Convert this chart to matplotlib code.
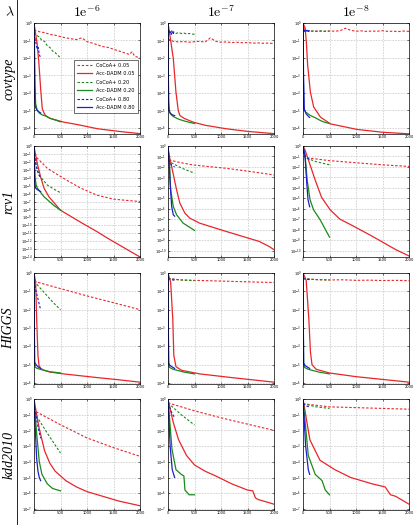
import numpy as np
import matplotlib
matplotlib.use("Agg")
import matplotlib.pyplot as plt
from matplotlib.ticker import LogFormatterSciNotation, NullLocator, FixedLocator

plt.rcParams['mathtext.fontset'] = 'cm'
plt.rcParams['font.family'] = ['DejaVu Sans']

# ---------------- data: (iterations, log10 suboptimality) ----------------
SERIES = ["CoCoA+ 0.05", "Acc-DADM 0.05", "CoCoA+ 0.20", "Acc-DADM 0.20", "CoCoA+ 0.80", "Acc-DADM 0.80"]
DATASETS = ["covtype", "rcv1", "HIGGS", "kdd2010"]
LAMBDAS = [r"$1\mathrm{e}^{-6}$", r"$1\mathrm{e}^{-7}$", r"$1\mathrm{e}^{-8}$"]
X_TICKS = [0, 500, 1000, 1500, 2000]
Y_BOTTOM = [-6.35, -14.0, -6.05, -7.07]          # log10 of lower y-limit per row
Y_BOTTOM_COLS = {("rcv1", 1): -10.6, ("rcv1", 2): -10.6}

covtype_6 = {
    "CoCoA+ 0.05": ([0, 100, 200, 300, 400, 500, 600, 700, 800, 900, 950, 1000, 1100, 1200, 1300, 1400, 1500, 1600, 1700, 1800, 1850, 1900, 2000],
                    [-0.40, -0.50, -0.55, -0.65, -0.70, -0.78, -0.85, -0.90, -0.95, -0.85, -0.95, -1.07, -1.15, -1.25, -1.35, -1.40, -1.50, -1.60, -1.70, -1.80, -1.65, -1.90, -2.00]),
    "Acc-DADM 0.05": ([0, 30, 60, 90, 125, 156, 190, 220, 300, 560, 800, 1200, 1600, 2000],
                      [0, -0.6, -1.2, -2.2, -3.75, -4.9, -5.15, -5.3, -5.45, -5.67, -5.8, -6.05, -6.2, -6.33]),
    "CoCoA+ 0.20": ([0, 50, 100, 150, 200, 250, 300, 350, 400, 450, 500],
                    [-0.55, -0.7, -0.8, -1.0, -1.05, -1.3, -1.4, -1.6, -1.7, -1.85, -2.0]),
    "Acc-DADM 0.20": ([0, 10, 20, 30, 60, 100, 150, 220, 300, 400, 500],
                      [0, -1.5, -3.5, -4.6, -5.0, -5.15, -5.25, -5.32, -5.45, -5.55, -5.65]),
    "CoCoA+ 0.80": ([0, 20, 40, 60, 80, 100, 125],
                    [-0.6, -0.9, -1.2, -1.5, -1.4, -1.8, -2.0]),
    "Acc-DADM 0.80": ([0, 5, 10, 15, 25, 50, 80, 125],
                      [0, -1.5, -3.5, -4.5, -4.8, -4.95, -5.05, -5.15]),
}
covtype_7 = {
    "CoCoA+ 0.05": (list(range(0, 2001, 100)),
                    [-0.9, -1.05, -1.08, -1.06, -1.1, -1.07, -1.05, -1.09, -0.85, -1.05, -1.1, -1.08, -1.12, -1.1, -1.13, -1.12, -1.15, -1.14, -1.16, -1.15, -1.18]),
    "Acc-DADM 0.05": ([0, 50, 100, 150, 193, 224, 300, 473, 700, 1097, 1500, 2000],
                      [0, -1.0, -2.03, -3.95, -5.0, -5.29, -5.45, -5.67, -5.85, -6.05, -6.2, -6.33]),
    "CoCoA+ 0.20": (list(range(0, 501, 50)),
                    [-0.5, -0.55, -0.5, -0.6, -0.55, -0.6, -0.58, -0.62, -0.6, -0.63, -0.65]),
    "Acc-DADM 0.20": ([0, 5, 10, 15, 30, 60, 100, 200, 300, 400, 500],
                      [0, -2, -4, -4.8, -5.1, -5.25, -5.35, -5.5, -5.6, -5.68, -5.75]),
    "CoCoA+ 0.80": ([0, 10, 20, 30, 40, 50, 60, 70, 80, 90, 100, 110, 120, 125],
                    [-0.5, -0.45, -0.6, -0.4, -0.55, -0.5, -0.65, -0.45, -0.55, -0.5, -0.6, -0.5, -0.55, -0.55]),
    "Acc-DADM 0.80": ([0, 5, 10, 20, 40, 80, 125],
                      [0, -2.5, -4.5, -5.0, -5.15, -5.25, -5.3]),
}
covtype_8 = {
    "CoCoA+ 0.05": (list(range(0, 2001, 100)),
                    [-0.3, -0.45, -0.47, -0.46, -0.48, -0.45, -0.47, -0.44, -0.3, -0.42, -0.47, -0.45, -0.48, -0.46, -0.47, -0.44, -0.48, -0.47, -0.49, -0.46, -0.48]),
    "Acc-DADM 0.05": ([0, 40, 63, 88, 139, 202, 328, 517, 1022, 1500, 2000],
                      [0, -0.3, -1.07, -2.41, -3.95, -4.81, -5.38, -5.77, -6.09, -6.25, -6.34]),
    "CoCoA+ 0.20": (list(range(0, 501, 50)),
                    [-0.4, -0.46, -0.44, -0.47, -0.45, -0.48, -0.46, -0.45, -0.47, -0.46, -0.48]),
    "Acc-DADM 0.20": ([0, 5, 13, 50, 139, 250, 328, 400, 500],
                      [0, -2.5, -4.9, -5.1, -5.29, -5.45, -5.58, -5.67, -5.75]),
    "CoCoA+ 0.80": ([0, 10, 20, 30, 40, 50, 60, 70, 80, 90, 100, 110, 120, 125],
                    [-0.4, -0.5, -0.42, -0.48, -0.4, -0.5, -0.45, -0.42, -0.5, -0.44, -0.48, -0.43, -0.47, -0.46]),
    "Acc-DADM 0.80": ([0, 10, 25, 60, 107, 125],
                      [0, -3, -4.94, -5.2, -5.36, -5.4]),
}
rcv1_6 = {
    "CoCoA+ 0.05": ([0, 12, 250, 563, 875, 1188, 1500, 1813, 2000],
                    [-0.5, -1.2, -2.8, -4.1, -5.3, -6.2, -6.7, -6.9, -7.0]),
    "Acc-DADM 0.05": ([0, 12, 62, 125, 188, 281, 500, 875, 1188, 1406, 2000],
                      [0, -0.5, -2.2, -3.9, -5.3, -6.4, -8.1, -9.6, -10.8, -11.7, -14.0]),
    "CoCoA+ 0.20": ([0, 30, 94, 250, 406, 500],
                    [-0.5, -2.2, -3.66, -4.92, -5.55, -5.89]),
    "Acc-DADM 0.20": ([0, 10, 20, 40, 62, 188, 375, 500],
                      [0, -2, -4, -4.9, -5.3, -6.4, -7.5, -8.1]),
    "CoCoA+ 0.80": ([0, 30, 60, 90, 125],
                    [-0.5, -2.0, -3.0, -3.6, -4.0]),
    "Acc-DADM 0.80": ([0, 8, 15, 30, 62, 125],
                      [0, -2.5, -4.7, -5.3, -5.5, -5.75]),
}
rcv1_7 = {
    "CoCoA+ 0.05": ([0, 25, 200, 474, 800, 1097, 1500, 2000],
                    [-0.5, -1.33, -1.55, -1.81, -1.98, -2.13, -2.4, -2.76]),
    "Acc-DADM 0.05": ([0, 12, 69, 162, 224, 318, 411, 598, 1097, 1720, 1906, 2000],
                      [0, -0.7, -1.97, -4.19, -5.46, -6.41, -6.89, -7.37, -8.16, -9.11, -9.59, -9.9]),
    "CoCoA+ 0.20": ([0, 25, 250, 500],
                    [-0.5, -1.49, -2.1, -2.6]),
    "Acc-DADM 0.20": ([0, 25, 50, 100, 162, 287, 500],
                      [0, -1.33, -4.19, -5.78, -6.57, -7.37, -8.06]),
    "CoCoA+ 0.80": ([0, 25, 60, 125],
                    [-0.5, -1.5, -1.8, -2.0]),
    "Acc-DADM 0.80": ([0, 12, 40, 69, 100, 125],
                      [0, -0.7, -3.5, -5.78, -6.57, -6.7]),
}
rcv1_8 = {
    "CoCoA+ 0.05": ([0, 40, 500, 1000, 1500, 2000],
                    [-0.5, -1.1, -1.4, -1.6, -1.8, -1.95]),
    "Acc-DADM 0.05": ([0, 38, 100, 229, 350, 514, 700, 895, 1300, 1752, 2000],
                      [0, -0.38, -1.3, -3.24, -4.9, -6.1, -7.0, -7.5, -8.6, -9.9, -10.5]),
    "CoCoA+ 0.20": ([0, 40, 250, 500],
                    [-0.5, -1.1, -1.5, -1.8]),
    "Acc-DADM 0.20": ([0, 38, 80, 133, 200, 324, 500],
                      [0, -0.9, -3.3, -5.14, -6.1, -7.05, -8.7]),
    "CoCoA+ 0.80": ([0, 40, 125],
                    [-0.5, -1.0, -1.3]),
    "Acc-DADM 0.80": ([0, 38, 70, 95, 125],
                      [0, -0.9, -3.5, -5.14, -5.8]),
}
higgs_6 = {
    "CoCoA+ 0.05": ([0, 500, 1000, 1500, 2000],
                    [-0.45, -0.85, -1.25, -1.62, -2.0]),
    "Acc-DADM 0.05": ([0, 31, 50, 75, 95, 125, 190, 300, 560, 1190, 1600, 2000],
                      [0, -0.48, -2.5, -4.5, -5.05, -5.2, -5.3, -5.4, -5.5, -5.7, -5.82, -5.95]),
    "CoCoA+ 0.20": ([0, 125, 250, 375, 500],
                    [-0.45, -0.85, -1.25, -1.65, -2.0]),
    "Acc-DADM 0.20": ([0, 5, 10, 25, 60, 156, 300, 500],
                      [0, -2.5, -5.0, -5.14, -5.2, -5.28, -5.38, -5.45]),
    "CoCoA+ 0.80": ([0, 30, 60, 90, 125],
                    [-0.45, -0.85, -1.25, -1.6, -2.0]),
    "Acc-DADM 0.80": ([0, 5, 12, 40, 80, 125],
                      [0, -2.5, -4.87, -5.0, -5.12, -5.2]),
}
higgs_7 = {
    "CoCoA+ 0.05": ([0, 250, 500, 750, 1000, 1250, 1500, 1750, 2000],
                    [-0.3, -0.38, -0.4, -0.42, -0.44, -0.46, -0.48, -0.5, -0.52]),
    "Acc-DADM 0.05": ([0, 50, 90, 110, 150, 250, 600, 1200, 2000],
                      [0, -0.5, -2.5, -4.5, -5.1, -5.3, -5.5, -5.7, -5.95]),
    "CoCoA+ 0.20": ([0, 125, 250, 375, 500],
                    [-0.3, -0.35, -0.38, -0.4, -0.42]),
    "Acc-DADM 0.20": ([0, 5, 12, 30, 100, 300, 500],
                      [0, -2.5, -5.0, -5.15, -5.25, -5.4, -5.5]),
    "CoCoA+ 0.80": ([0, 30, 60, 90, 125],
                    [-0.3, -0.33, -0.36, -0.38, -0.4]),
    "Acc-DADM 0.80": ([0, 5, 12, 40, 125],
                      [0, -2.5, -4.9, -5.05, -5.2]),
}
higgs_8 = {
    "CoCoA+ 0.05": ([0, 250, 500, 750, 1000, 1250, 1500, 1750, 2000],
                    [-0.3, -0.36, -0.38, -0.37, -0.4, -0.39, -0.41, -0.4, -0.42]),
    "Acc-DADM 0.05": ([0, 60, 110, 140, 170, 250, 500, 1000, 2000],
                      [0, -0.4, -2.5, -4.3, -5.0, -5.25, -5.45, -5.65, -5.95]),
    "CoCoA+ 0.20": ([0, 125, 250, 375, 500],
                    [-0.3, -0.34, -0.36, -0.37, -0.38]),
    "Acc-DADM 0.20": ([0, 5, 12, 30, 100, 300, 500],
                      [0, -2.5, -5.0, -5.15, -5.25, -5.4, -5.5]),
    "CoCoA+ 0.80": ([0, 30, 60, 90, 125],
                    [-0.3, -0.32, -0.34, -0.35, -0.36]),
    "Acc-DADM 0.80": ([0, 5, 12, 40, 125],
                      [0, -2.5, -4.9, -5.05, -5.2]),
}
kdd_6 = {
    "CoCoA+ 0.05": ([0, 30, 500, 1000, 1500, 2000],
                    [-0.3, -0.79, -1.64, -2.48, -3.1, -3.65]),
    "Acc-DADM 0.05": ([0, 50, 100, 150, 200, 300, 400, 600, 800, 1000, 1300, 1600, 2000],
                      [0, -1.0, -1.9, -2.6, -3.3, -4.1, -4.6, -5.2, -5.6, -5.9, -6.2, -6.5, -6.8]),
    "CoCoA+ 0.20": ([0, 31, 250, 500],
                    [-0.3, -1.0, -2.17, -3.44]),
    "Acc-DADM 0.20": ([0, 50, 100, 150, 250, 350, 500],
                      [0, -2.2, -4.0, -4.8, -5.4, -5.7, -5.85]),
    "CoCoA+ 0.80": ([0, 30, 60, 90, 125],
                    [-0.3, -0.9, -1.5, -2.0, -2.5]),
    "Acc-DADM 0.80": ([0, 25, 50, 75, 100, 125],
                      [0, -2, -3.8, -4.6, -5.0, -5.2]),
}
kdd_7 = {
    "CoCoA+ 0.05": ([0, 500, 1000, 1500, 2000],
                    [-0.25, -0.75, -1.2, -1.6, -2.0]),
    "Acc-DADM 0.05": ([0, 100, 200, 350, 500, 700, 900, 1200, 1500, 1600, 1650, 1700, 2000],
                      [0, -1.5, -2.6, -3.6, -4.2, -4.6, -4.9, -5.4, -5.8, -5.85, -6.3, -6.4, -6.7]),
    "CoCoA+ 0.20": ([0, 250, 500],
                    [-0.25, -1.0, -1.66]),
    "Acc-DADM 0.20": ([0, 75, 150, 250, 300, 320, 400, 500],
                      [0, -3.2, -4.5, -4.8, -4.9, -5.8, -6.1, -6.1]),
    "CoCoA+ 0.80": ([0, 60, 125],
                    [-0.25, -0.8, -1.2]),
    "Acc-DADM 0.80": ([0, 40, 80, 125],
                      [0, -3, -4.5, -5.0]),
}
kdd_8 = {
    "CoCoA+ 0.05": ([0, 500, 1000, 1500, 2000],
                    [-0.3, -0.5, -0.55, -0.6, -0.65]),
    "Acc-DADM 0.05": ([0, 130, 320, 600, 900, 1300, 1550, 1650, 1750, 2000],
                      [0, -2.6, -3.9, -4.5, -5.0, -5.4, -5.6, -6.1, -6.2, -6.7]),
    "CoCoA+ 0.20": ([0, 250, 500],
                    [-0.3, -0.5, -0.6]),
    "Acc-DADM 0.20": ([0, 100, 230, 360, 420, 500],
                      [0, -3.6, -4.8, -5.2, -5.8, -6.1]),
    "CoCoA+ 0.80": ([0, 60, 125],
                    [-0.3, -0.45, -0.5]),
    "Acc-DADM 0.80": ([0, 50, 100, 125],
                      [0, -3, -4.5, -4.8]),
}

PANELS = [[covtype_6, covtype_7, covtype_8],
          [rcv1_6, rcv1_7, rcv1_8],
          [higgs_6, higgs_7, higgs_8],
          [kdd_6, kdd_7, kdd_8]]

STYLE = {
    "CoCoA+ 0.05": dict(color="#e8262a", dashes=(2.2, 1.6), lw=0.8),
    "Acc-DADM 0.05": dict(color="#e8262a", lw=0.9),
    "CoCoA+ 0.20": dict(color="#1a8a1a", dashes=(2.2, 1.6), lw=0.8),
    "Acc-DADM 0.20": dict(color="#1a8a1a", lw=0.9),
    "CoCoA+ 0.80": dict(color="#1f1fcc", dashes=(2.2, 1.6), lw=0.8),
    "Acc-DADM 0.80": dict(color="#1f1fcc", lw=0.9),
}

# ---------------- layout ----------------
W, H = 419, 525
fig = plt.figure(figsize=(W / 100, H / 100), dpi=100)
col_left = [34, 168, 303]
row_top = [23, 146, 273, 399]
aw, ah = 106, 111

def px_axes(l, t, w, h):
    return fig.add_axes([l / W, 1 - (t + h) / H, w / W, h / H])

for r, ds in enumerate(DATASETS):
    for c in range(3):
        ax = px_axes(col_left[c], row_top[r], aw, ah)
        data = PANELS[r][c]
        for name in SERIES:
            xs, ys = data[name]
            ax.plot(xs, 10.0 ** np.asarray(ys), label=name, **STYLE[name])
        ax.set_yscale("log")
        ybot = Y_BOTTOM_COLS.get((ds, c), Y_BOTTOM[r])
        ax.set_ylim(10 ** ybot, 1.0)
        ax.set_xlim(0, 2000)
        ax.xaxis.set_major_locator(FixedLocator(X_TICKS))
        exps = np.arange(0, int(np.ceil(ybot)) - 1, -1)
        ax.yaxis.set_major_locator(FixedLocator(10.0 ** exps))
        ax.yaxis.set_minor_locator(NullLocator())
        ax.yaxis.set_major_formatter(LogFormatterSciNotation())
        ax.tick_params(axis="both", which="major", labelsize=2.6, length=1.5, width=0.4,
                       direction="in", pad=1, top=True, right=True)
        ax.grid(True, color="0.72", linestyle=(0, (3, 2)), linewidth=0.4)
        for s in ax.spines.values():
            s.set_linewidth(0.5)
        if r == 0 and c == 0:
            leg = ax.legend(loc="center right", bbox_to_anchor=(1.0, 0.43), fontsize=3.6,
                            fancybox=False, edgecolor="black", framealpha=1,
                            handlelength=3, borderpad=0.6, labelspacing=0.7)
            leg.get_frame().set_linewidth(0.4)

# header and row labels
fig.text(10 / W, 1 - 12 / H, r"$\lambda$", fontsize=10, ha="center", va="center")
for c, lab in enumerate(LAMBDAS):
    fig.text((col_left[c] + aw / 2) / W, 1 - 12 / H, lab, fontsize=10, ha="center", va="center")
for r, ds in enumerate(DATASETS):
    fig.text(9 / W, 1 - (row_top[r] + ah / 2) / H, ds, fontsize=10,
             family=["Liberation Serif", "DejaVu Serif"], style="italic",
             rotation=90, ha="center", va="center")

fig.add_artist(plt.Line2D([17 / W, 17 / W], [0, 1], color="black", lw=0.6))

fig.savefig("out.png", dpi=100)
